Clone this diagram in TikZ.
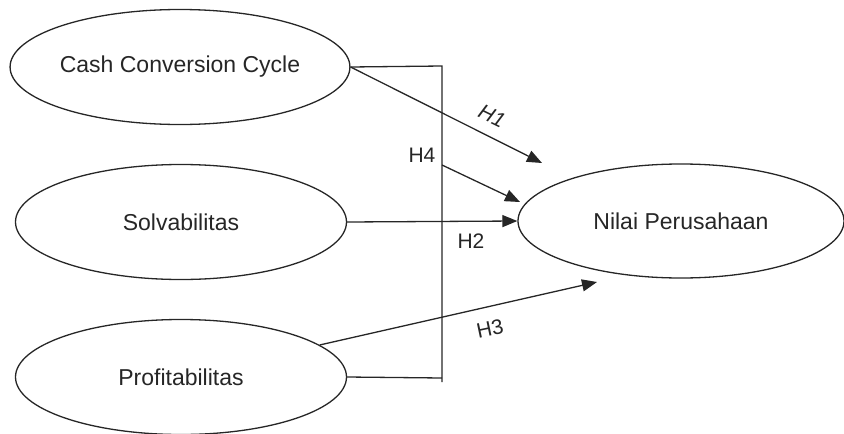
\documentclass[tikz,border=0pt]{standalone}
\usepackage{fontspec}
\setmainfont{Liberation Sans}
\usetikzlibrary{shapes.geometric,arrows.meta}
\begin{document}
\begin{tikzpicture}[x=1pt,y=-1pt,
  varbox/.style={ellipse,draw=black!85,line width=1.3pt,minimum width=331pt,minimum height=115pt,inner sep=0pt,font=\fontsize{23}{27}\selectfont,text=black!85},
  link/.style={draw=black!85,line width=1.3pt},
  arr/.style={link,-{Triangle[length=15pt,width=12pt]}},
  lbl/.style={font=\fontsize{21}{25}\selectfont,text=black!85,inner sep=0pt}]
\useasboundingbox (0,0) rectangle (844,434);
\node[varbox] (ccc) at (180,67) {Cash Conversion Cycle};
\node[varbox] (solv) at (181,222) {Solvabilitas};
\node[varbox] (prof) at (181,377) {Profitabilitas};
\node[varbox,minimum width=326pt,minimum height=114pt] (nilai) at (681,221) {Nilai Perusahaan};
\coordinate (vtop) at (442,66);
\coordinate (vbot) at (442,382);
\coordinate (vbotj) at (442,378);
\coordinate (h4s) at (442,165);
\coordinate (h4e) at (520,202);
\coordinate (h1e) at (542,163);
\coordinate (h3e) at (597,282);
\draw[link] (ccc.east) -- (vtop) -- (vbot);
\draw[link] (prof.east) -- (vbotj);
\draw[arr] (ccc.east) -- (h1e);
\draw[arr] (h4s) -- (h4e);
\draw[arr] (solv.east) -- (nilai.west);
\draw[arr] (prof.13) -- (h3e);
\node[lbl,rotate=-26] (l1) at (492,116) {\itshape H1};
\node[lbl] (l4) at (422,155) {H4};
\node[lbl] (l2) at (471,241) {H2};
\node[lbl,rotate=12] (l3) at (490,329) {H3};
\end{tikzpicture}
\end{document}
